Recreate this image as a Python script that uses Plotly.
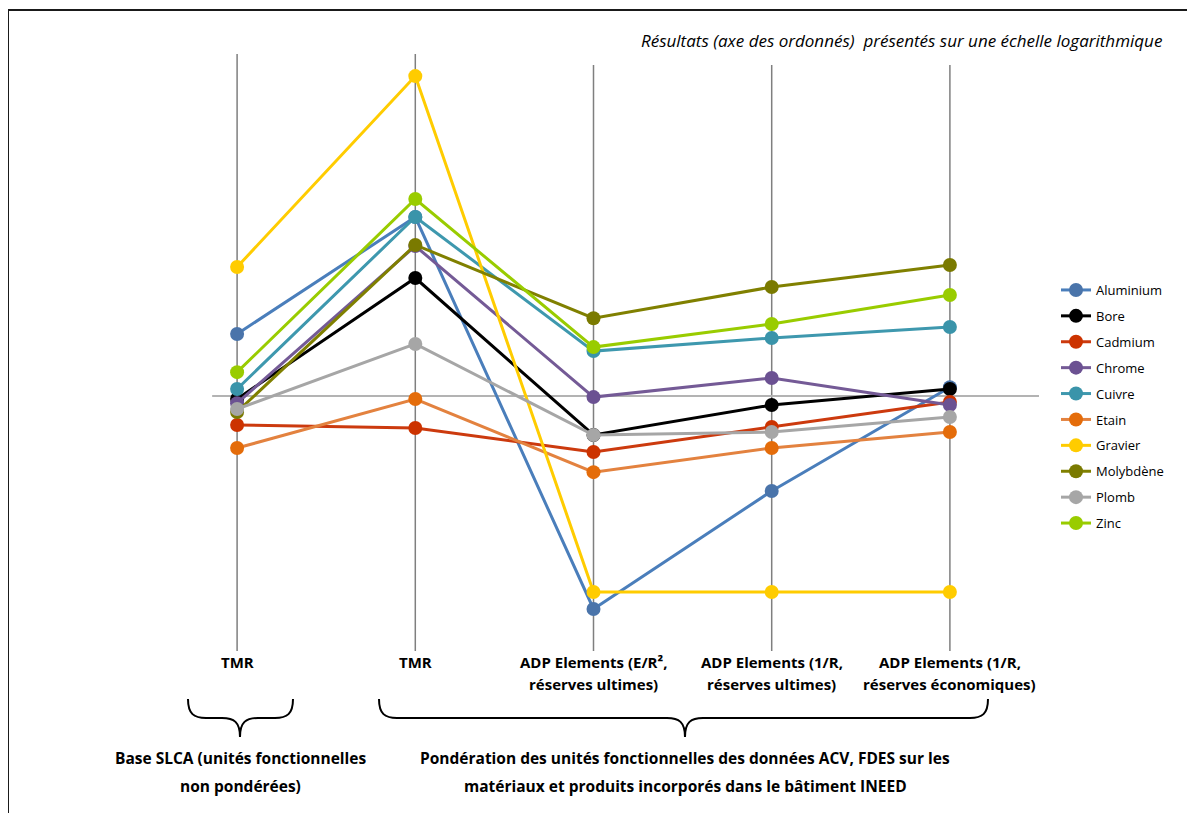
import plotly.graph_objects as go

# ---------------- data ----------------
positions = [0, 1, 2, 3, 4]
category_lines = [
    ["TMR"],
    ["TMR"],
    ["ADP Elements (E/R²,", "réserves ultimes)"],
    ["ADP Elements (1/R,", "réserves ultimes)"],
    ["ADP Elements (1/R,", "réserves économiques)"],
]
series_names = ["Aluminium", "Bore", "Cadmium", "Chrome", "Cuivre",
                "Etain", "Gravier", "Molybdène", "Plomb", "Zinc"]

aluminium = [17.4, 3800, 5.5e-5, 0.0126, 1.5]
bore = [0.87, 229, 0.166, 0.66, 1.38]
cadmium = [0.263, 0.229, 0.076, 0.24, 0.76]
chrome = [0.72, 1000, 0.95, 2.29, 0.66]
cuivre = [1.38, 3800, 7.9, 14.5, 24]
etain = [0.091, 0.87, 0.030, 0.091, 0.19]
gravier = [380, 2.5e6, 1.2e-4, 1.2e-4, 1.2e-4]
molybdene = [0.48, 1050, 36, 151, 417]
plomb = [0.55, 11, 0.166, 0.19, 0.38]
zinc = [3.0, 8700, 9.5, 27.5, 105]
reference_value = 1

series_values = [aluminium, bore, cadmium, chrome, cuivre,
                 etain, gravier, molybdene, plomb, zinc]
line_colors = ["#4A7EBB", "#000000", "#CC3A0E", "#745A96", "#3E98AE",
               "#E3823F", "#FFCC00", "#808000", "#A6A6A6", "#99CC00"]
marker_colors = ["#4A74AA", "#000000", "#CC3300", "#6B5192", "#3A94AA",
                 "#E46C0A", "#FFCC00", "#7A7A00", "#A6A6A6", "#99CC00"]

title_text = "Résultats (axe des ordonnés)  présentés sur une échelle logarithmique"
group_left = ["Base SLCA (unités fonctionnelles", "non pondérées)"]
group_right = ["Pondération des unités fonctionnelles des données ACV, FDES sur les",
               "matériaux et produits incorporés dans le bâtiment INEED"]

# ---------------- layout geometry ----------------
OFF = 8  # page body margin
W, H = 1195 - OFF, 813 - OFF
L, R, T, B = 148 - OFF, 156, 54 - OFF, 163
PW, PH = W - L - R, H - T - B
Y_RANGE = [-5.08, 6.84]
FONT = "Open Sans"
LABEL_SIZE = 15.5


def px_x(X):
    return (X - OFF - L) / PW


def px_y(Y):
    return (H - B - (Y - OFF)) / PH


fig = go.Figure()

# reference horizontal line (value 1)
fig.add_trace(go.Scatter(x=[-0.14, 4.5], y=[reference_value, reference_value],
                         mode="lines", line=dict(color="#B3B3B3", width=2),
                         showlegend=False, hoverinfo="skip"))

for i, (name, vals) in enumerate(zip(series_names, series_values)):
    fig.add_trace(go.Scatter(
        x=positions, y=vals, name=name, mode="lines+markers",
        line=dict(color=line_colors[i], width=3),
        marker=dict(color=marker_colors[i], size=14),
        legendgroup=name,
    ))

shapes = []
# vertical category lines
tops = [54, 54, 65, 65, 65]
for p, top in zip(positions, tops):
    shapes.append(dict(type="line", xref="x", yref="paper", x0=p, x1=p,
                       y0=px_y(651), y1=px_y(top),
                       line=dict(color="#7F7F7F", width=1.5), layer="below"))

# frame (top and left)
shapes.append(dict(type="line", xref="paper", yref="paper",
                   x0=px_x(8), x1=px_x(1195), y0=px_y(10), y1=px_y(10),
                   line=dict(color="#1A1A1A", width=2)))
shapes.append(dict(type="line", xref="paper", yref="paper",
                   x0=px_x(8), x1=px_x(8), y0=px_y(10), y1=px_y(813),
                   line=dict(color="#1A1A1A", width=2)))


def brace(x0, x1, xm, ytop=699, ymid=718, ytip=737, r=18):
    P = lambda X, Y: f"{px_x(X):.5f},{px_y(Y):.5f}"
    d = (f"M {P(x0, ytop)} C {P(x0, ymid - 4)} {P(x0 + 6, ymid)} {P(x0 + r, ymid)} "
         f"L {P(xm - r, ymid)} C {P(xm - 6, ymid)} {P(xm, ymid + 4)} {P(xm, ytip)} "
         f"C {P(xm, ymid + 4)} {P(xm + 6, ymid)} {P(xm + r, ymid)} "
         f"L {P(x1 - r, ymid)} C {P(x1 - 6, ymid)} {P(x1, ymid - 4)} {P(x1, ytop)}")
    return dict(type="path", xref="paper", yref="paper", path=d,
                line=dict(color="#000000", width=2))


shapes.append(brace(188, 293, 240))
shapes.append(brace(379, 988, 685))

annotations = []
# category labels
for p, lines in zip(positions, category_lines):
    for k, t in enumerate(lines):
        annotations.append(dict(x=p, y=px_y(662 + 22 * k), xref="x", yref="paper",
                                text=f"<b>{t}</b>", showarrow=False,
                                font=dict(family=FONT, size=15, color="#000000"),
                                xanchor="center", yanchor="middle"))
# group labels
for k, t in enumerate(group_left):
    annotations.append(dict(x=px_x(240), y=px_y(758 + 28 * k), xref="paper", yref="paper",
                            text=f"<b>{t}</b>", showarrow=False,
                            font=dict(family=FONT, size=LABEL_SIZE, color="#000000"),
                            xanchor="center", yanchor="middle"))
for k, t in enumerate(group_right):
    annotations.append(dict(x=px_x(685), y=px_y(758 + 28 * k), xref="paper", yref="paper",
                            text=f"<b>{t}</b>", showarrow=False,
                            font=dict(family=FONT, size=LABEL_SIZE, color="#000000"),
                            xanchor="center", yanchor="middle"))
# title note
annotations.append(dict(x=px_x(1164), y=px_y(40), xref="paper", yref="paper",
                        text=f"<i>{title_text}</i>", showarrow=False,
                        font=dict(family=FONT, size=17, color="#000000"),
                        xanchor="right", yanchor="middle"))

fig.update_layout(
    width=W, height=H,
    margin=dict(l=L, r=R, t=T, b=B),
    paper_bgcolor="white", plot_bgcolor="white",
    font=dict(family=FONT, size=13, color="#000000"),
    xaxis=dict(range=[-0.5, 4.5], showgrid=False, zeroline=False,
               showticklabels=False, showline=False, ticks=""),
    yaxis=dict(type="log", range=Y_RANGE, showgrid=False, zeroline=False,
               showticklabels=False, showline=False, ticks=""),
    legend=dict(x=px_x(1056), y=px_y(275), xanchor="left", yanchor="top",
                tracegroupgap=6, font=dict(family=FONT, size=13),
                bgcolor="rgba(0,0,0,0)", itemwidth=30),
    shapes=shapes, annotations=annotations,
    hovermode=False, showlegend=True,
)

fig.write_html("out.html")
